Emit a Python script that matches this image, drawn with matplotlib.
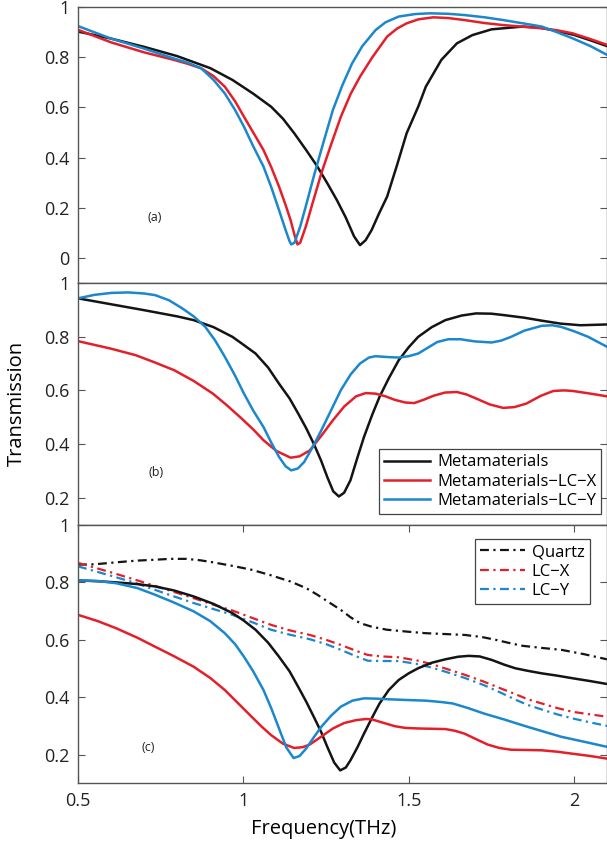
import matplotlib
matplotlib.use("Agg")
import matplotlib.pyplot as plt

plt.rcParams['font.family'] = ['Open Sans', 'DejaVu Sans']

# ---- panel (a)
a_meta_x = [0.5, 0.6, 0.7, 0.8, 0.9, 0.967, 1.03, 1.084, 1.12, 1.154, 1.19, 1.224, 1.255,
            1.283, 1.31, 1.335, 1.353, 1.37, 1.388, 1.41, 1.435, 1.465, 1.494, 1.529, 1.552,
            1.599, 1.646, 1.693, 1.751, 1.845, 1.9, 1.95, 2.0, 2.05, 2.1]
a_meta_y = [0.903, 0.875, 0.842, 0.805, 0.757, 0.71, 0.655, 0.603, 0.555, 0.497, 0.43, 0.364,
            0.295, 0.23, 0.16, 0.085, 0.05, 0.07, 0.11, 0.175, 0.244, 0.37, 0.497, 0.603,
            0.683, 0.79, 0.856, 0.889, 0.912, 0.923, 0.918, 0.905, 0.89, 0.868, 0.845]
a_lcx_x = [0.5, 0.6, 0.7, 0.79, 0.83, 0.873, 0.91, 0.944, 0.975, 1.002, 1.03, 1.061, 1.085,
           1.108, 1.128, 1.143, 1.155, 1.164, 1.172, 1.189, 1.21, 1.236, 1.265, 1.295, 1.325,
           1.353, 1.39, 1.435, 1.465, 1.494, 1.53, 1.575, 1.62, 1.669, 1.73, 1.786, 1.85,
           1.903, 1.95, 1.996, 2.05, 2.1]
a_lcx_y = [0.91, 0.86, 0.82, 0.79, 0.775, 0.756, 0.725, 0.683, 0.625, 0.563, 0.5, 0.43, 0.36,
           0.284, 0.21, 0.15, 0.09, 0.053, 0.06, 0.124, 0.22, 0.337, 0.45, 0.563, 0.655,
           0.723, 0.8, 0.883, 0.915, 0.936, 0.952, 0.96, 0.957, 0.949, 0.937, 0.929, 0.922,
           0.916, 0.908, 0.896, 0.873, 0.85]
a_lcy_x = [0.5, 0.6, 0.7, 0.791, 0.83, 0.873, 0.91, 0.944, 0.975, 1.002, 1.03, 1.061, 1.085,
           1.108, 1.128, 1.14, 1.145, 1.155, 1.172, 1.19, 1.213, 1.24, 1.271, 1.3, 1.329,
           1.36, 1.4, 1.43, 1.47, 1.52, 1.564, 1.62, 1.669, 1.73, 1.786, 1.85, 1.903, 1.95,
           1.996, 2.05, 2.1]
a_lcy_y = [0.925, 0.875, 0.835, 0.795, 0.78, 0.756, 0.71, 0.656, 0.59, 0.523, 0.445, 0.364,
           0.28, 0.19, 0.11, 0.065, 0.053, 0.06, 0.124, 0.21, 0.324, 0.45, 0.59, 0.69, 0.776,
           0.845, 0.909, 0.94, 0.963, 0.973, 0.976, 0.974, 0.969, 0.96, 0.949, 0.935, 0.923,
           0.9, 0.876, 0.845, 0.81]

# ---- panel (b)
b_meta_x = [0.5, 0.6, 0.7, 0.8, 0.85, 0.91, 0.967, 1.0, 1.037, 1.075, 1.108, 1.14, 1.166,
            1.19, 1.213, 1.235, 1.254, 1.272, 1.289, 1.305, 1.324, 1.345, 1.365, 1.39, 1.412,
            1.44, 1.47, 1.5, 1.529, 1.57, 1.611, 1.66, 1.704, 1.75, 1.786, 1.85, 1.903, 1.96,
            2.02, 2.1]
b_meta_y = [0.942, 0.92, 0.898, 0.875, 0.861, 0.835, 0.799, 0.77, 0.737, 0.685, 0.625, 0.57,
            0.514, 0.46, 0.402, 0.34, 0.278, 0.225, 0.206, 0.22, 0.266, 0.35, 0.427, 0.51,
            0.576, 0.645, 0.712, 0.76, 0.799, 0.835, 0.861, 0.878, 0.886, 0.885, 0.88, 0.87,
            0.859, 0.848, 0.842, 0.845]
b_lcx_x = [0.5, 0.6, 0.674, 0.73, 0.791, 0.85, 0.908, 0.95, 0.99, 1.03, 1.061, 1.1, 1.143,
           1.17, 1.201, 1.235, 1.271, 1.305, 1.341, 1.37, 1.4, 1.43, 1.458, 1.49, 1.517,
           1.545, 1.575, 1.61, 1.646, 1.675, 1.704, 1.745, 1.786, 1.82, 1.856, 1.9, 1.938,
           1.97, 1.996, 2.05, 2.1]
b_lcx_y = [0.783, 0.755, 0.731, 0.705, 0.675, 0.635, 0.588, 0.545, 0.501, 0.455, 0.415, 0.375,
           0.35, 0.355, 0.377, 0.43, 0.489, 0.54, 0.578, 0.59, 0.588, 0.578, 0.565, 0.555,
           0.553, 0.565, 0.58, 0.592, 0.594, 0.585, 0.57, 0.548, 0.535, 0.538, 0.551, 0.58,
           0.598, 0.6, 0.598, 0.588, 0.578]
b_lcy_x = [0.5, 0.55, 0.6, 0.651, 0.7, 0.733, 0.775, 0.815, 0.85, 0.885, 0.915, 0.944, 0.975,
           1.002, 1.03, 1.061, 1.085, 1.108, 1.128, 1.145, 1.165, 1.184, 1.21, 1.236, 1.265,
           1.295, 1.325, 1.353, 1.38, 1.4, 1.435, 1.47, 1.5, 1.529, 1.56, 1.587, 1.62, 1.657,
           1.7, 1.751, 1.78, 1.81, 1.85, 1.903, 1.935, 1.961, 2.0, 2.043, 2.1]
b_lcy_y = [0.942, 0.955, 0.962, 0.964, 0.96, 0.954, 0.935, 0.905, 0.875, 0.836, 0.785, 0.725,
           0.655, 0.588, 0.525, 0.464, 0.405, 0.353, 0.318, 0.303, 0.31, 0.334, 0.39, 0.452,
           0.525, 0.601, 0.66, 0.7, 0.722, 0.727, 0.724, 0.722, 0.727, 0.737, 0.76, 0.78,
           0.79, 0.79, 0.782, 0.778, 0.785, 0.799, 0.822, 0.84, 0.842, 0.836, 0.82, 0.799,
           0.762]

# ---- panel (c)
c_quartz_x = [0.5, 0.55, 0.616, 0.68, 0.733, 0.78, 0.827, 0.87, 0.908, 0.97, 1.025, 1.08,
              1.143, 1.19, 1.224, 1.26, 1.295, 1.325, 1.353, 1.39, 1.435, 1.5, 1.552, 1.61,
              1.669, 1.72, 1.763, 1.8, 1.845, 1.9, 1.962, 2.03, 2.1]
c_quartz_y = [0.862, 0.863, 0.87, 0.876, 0.879, 0.882, 0.882, 0.877, 0.87, 0.857, 0.844, 0.826,
              0.803, 0.78, 0.757, 0.73, 0.704, 0.678, 0.658, 0.645, 0.635, 0.628, 0.623, 0.62,
              0.617, 0.61, 0.6, 0.59, 0.579, 0.572, 0.565, 0.55, 0.532]
c_x_dd = [0.5, 0.6, 0.674, 0.76, 0.85, 0.91, 0.967, 1.03, 1.084, 1.14, 1.201, 1.25, 1.295,
          1.34, 1.377, 1.42, 1.47, 1.529, 1.57, 1.611, 1.67, 1.728, 1.78, 1.822, 1.86, 1.903,
          1.95, 1.996, 2.05, 2.1]
c_lcx_dd = [0.868, 0.835, 0.809, 0.778, 0.745, 0.722, 0.702, 0.675, 0.652, 0.633, 0.617, 0.6,
            0.582, 0.562, 0.547, 0.542, 0.539, 0.527, 0.515, 0.5, 0.478, 0.454, 0.43, 0.411,
            0.393, 0.378, 0.362, 0.349, 0.34, 0.332]
c_lcy_dd = [0.856, 0.823, 0.798, 0.763, 0.728, 0.707, 0.687, 0.66, 0.635, 0.618, 0.602, 0.585,
            0.565, 0.543, 0.527, 0.526, 0.526, 0.515, 0.503, 0.489, 0.467, 0.442, 0.415, 0.392,
            0.373, 0.357, 0.34, 0.326, 0.312, 0.3]
c_meta_x = [0.5, 0.56, 0.616, 0.68, 0.733, 0.79, 0.85, 0.91, 0.967, 1.0, 1.037, 1.075, 1.108,
            1.14, 1.166, 1.19, 1.213, 1.235, 1.254, 1.275, 1.293, 1.31, 1.324, 1.345, 1.365,
            1.39, 1.412, 1.44, 1.47, 1.5, 1.529, 1.57, 1.611, 1.65, 1.681, 1.715, 1.751, 1.79,
            1.822, 1.86, 1.903, 1.95, 1.996, 2.05, 2.1]
c_meta_y = [0.807, 0.804, 0.8, 0.794, 0.786, 0.772, 0.751, 0.725, 0.693, 0.668, 0.635, 0.59,
            0.541, 0.49, 0.436, 0.385, 0.332, 0.28, 0.227, 0.172, 0.145, 0.155, 0.18, 0.225,
            0.273, 0.33, 0.378, 0.425, 0.46, 0.483, 0.501, 0.52, 0.532, 0.541, 0.544, 0.542,
            0.53, 0.513, 0.501, 0.492, 0.483, 0.475, 0.466, 0.456, 0.446]
c_lcx_x = [0.5, 0.56, 0.616, 0.68, 0.733, 0.79, 0.85, 0.9, 0.944, 0.985, 1.025, 1.055, 1.084,
           1.12, 1.154, 1.18, 1.201, 1.235, 1.271, 1.305, 1.341, 1.37, 1.388, 1.42, 1.458,
           1.49, 1.529, 1.57, 1.611, 1.64, 1.669, 1.7, 1.739, 1.775, 1.81, 1.86, 1.903, 1.95,
           1.996, 2.05, 2.1]
c_lcx_y = [0.687, 0.665, 0.64, 0.607, 0.576, 0.543, 0.506, 0.467, 0.425, 0.378, 0.332, 0.298,
           0.268, 0.238, 0.223, 0.226, 0.235, 0.262, 0.291, 0.31, 0.32, 0.324, 0.323, 0.312,
           0.299, 0.293, 0.291, 0.29, 0.289, 0.283, 0.273, 0.256, 0.235, 0.223, 0.217, 0.216,
           0.215, 0.21, 0.203, 0.195, 0.186]
c_lcy_x = [0.5, 0.56, 0.616, 0.68, 0.733, 0.79, 0.85, 0.9, 0.944, 0.975, 1.002, 1.03, 1.061,
           1.085, 1.108, 1.13, 1.152, 1.17, 1.19, 1.213, 1.236, 1.265, 1.295, 1.33, 1.365, 1.4,
           1.435, 1.5, 1.552, 1.6, 1.634, 1.68, 1.728, 1.79, 1.845, 1.9, 1.962, 2.03, 2.1]
c_lcy_y = [0.807, 0.805, 0.797, 0.78, 0.757, 0.73, 0.699, 0.665, 0.623, 0.585, 0.541, 0.49,
           0.425, 0.36, 0.291, 0.225, 0.188, 0.195, 0.221, 0.26, 0.297, 0.335, 0.367, 0.388,
           0.396, 0.395, 0.393, 0.39, 0.388, 0.383, 0.378, 0.362, 0.343, 0.322, 0.302, 0.283,
           0.262, 0.245, 0.227]

BLACK = '#141414'
RED = '#e3202a'
BLUE = '#1b87cc'
LW = 1.8
DD = (0, (4, 2, 1, 2))

fig = plt.figure(figsize=(6.07, 8.48), dpi=100)
axA = fig.add_axes([0.1285, 0.6666, 0.8715, 0.3248])
axB = fig.add_axes([0.1285, 0.3809, 0.8715, 0.2857])
axC = fig.add_axes([0.1285, 0.0763, 0.8715, 0.3046])

axA.plot(a_meta_x, a_meta_y, color=BLACK, lw=LW)
axA.plot(a_lcx_x, a_lcx_y, color=RED, lw=LW)
axA.plot(a_lcy_x, a_lcy_y, color=BLUE, lw=LW)
axA.set_ylim(-0.1, 1)
axA.set_yticks([0, 0.2, 0.4, 0.6, 0.8, 1])
axA.set_yticklabels(['0', '0.2', '0.4', '0.6', '0.8', '1'])

axB.plot(b_meta_x, b_meta_y, color=BLACK, lw=LW, label='Metamaterials')
axB.plot(b_lcx_x, b_lcx_y, color=RED, lw=LW, label='Metamaterials\u2212LC\u2212X')
axB.plot(b_lcy_x, b_lcy_y, color=BLUE, lw=LW, label='Metamaterials\u2212LC\u2212Y')
axB.set_ylim(0.1, 1)
axB.set_yticks([0.2, 0.4, 0.6, 0.8, 1])
axB.set_yticklabels(['0.2', '0.4', '0.6', '0.8', '1'])
axB.set_ylabel('Transmission', fontsize=14.5)
axB.yaxis.set_label_coords(-0.097, 0.5)

axC.plot(c_quartz_x, c_quartz_y, color=BLACK, lw=1.6, ls=DD, label='Quartz')
axC.plot(c_x_dd, c_lcx_dd, color=RED, lw=1.6, ls=DD, label='LC\u2212X')
axC.plot(c_x_dd, c_lcy_dd, color=BLUE, lw=1.6, ls=DD, label='LC\u2212Y')
axC.plot(c_meta_x, c_meta_y, color=BLACK, lw=LW)
axC.plot(c_lcx_x, c_lcx_y, color=RED, lw=LW)
axC.plot(c_lcy_x, c_lcy_y, color=BLUE, lw=LW)
axC.set_ylim(0.1, 1)
axC.set_yticks([0.2, 0.4, 0.6, 0.8, 1])
axC.set_yticklabels(['0.2', '0.4', '0.6', '0.8', '1'])
axC.set_xticks([0.5, 1, 1.5, 2])
axC.set_xticklabels(['0.5', '1', '1.5', '2'])
axC.set_xlabel('Frequency(THz)', fontsize=14.5)
axC.xaxis.set_label_coords(0.465, -0.14)

for ax, lab, pos in [(axA, '(a)', (0.145, 0.235)), (axB, '(b)', (0.148, 0.215)),
                     (axC, '(c)', (0.133, 0.14))]:
    ax.set_xlim(0.5, 2.1)
    ax.text(pos[0], pos[1], lab, transform=ax.transAxes, fontsize=9, color='#222222',
            ha='center', va='center')
    for s in ax.spines.values():
        s.set_color('#555555')
        s.set_linewidth(1.0)
    ax.tick_params(direction='in', length=5, width=0.8, color='#555555',
                   labelsize=13, right=True, top=True, pad=6, labelcolor='#222222')
    if ax is not axC:
        ax.tick_params(axis='x', bottom=False, top=False, labelbottom=False)

legB = axB.legend(loc='lower right', bbox_to_anchor=(0.989, 0.045), fontsize=12,
                  fancybox=False, framealpha=1, edgecolor='#444444', handlelength=2.8,
                  borderpad=0.3, labelspacing=0.2, handletextpad=0.4, borderaxespad=0)
legB.get_frame().set_linewidth(0.9)
legC = axC.legend(loc='upper right', bbox_to_anchor=(0.967, 0.945), fontsize=12,
                  fancybox=False, framealpha=1, edgecolor='#444444', handlelength=2.7,
                  borderpad=0.3, labelspacing=0.2, handletextpad=0.4, borderaxespad=0)
legC.get_frame().set_linewidth(0.9)

fig.savefig('out.png', dpi=100)
